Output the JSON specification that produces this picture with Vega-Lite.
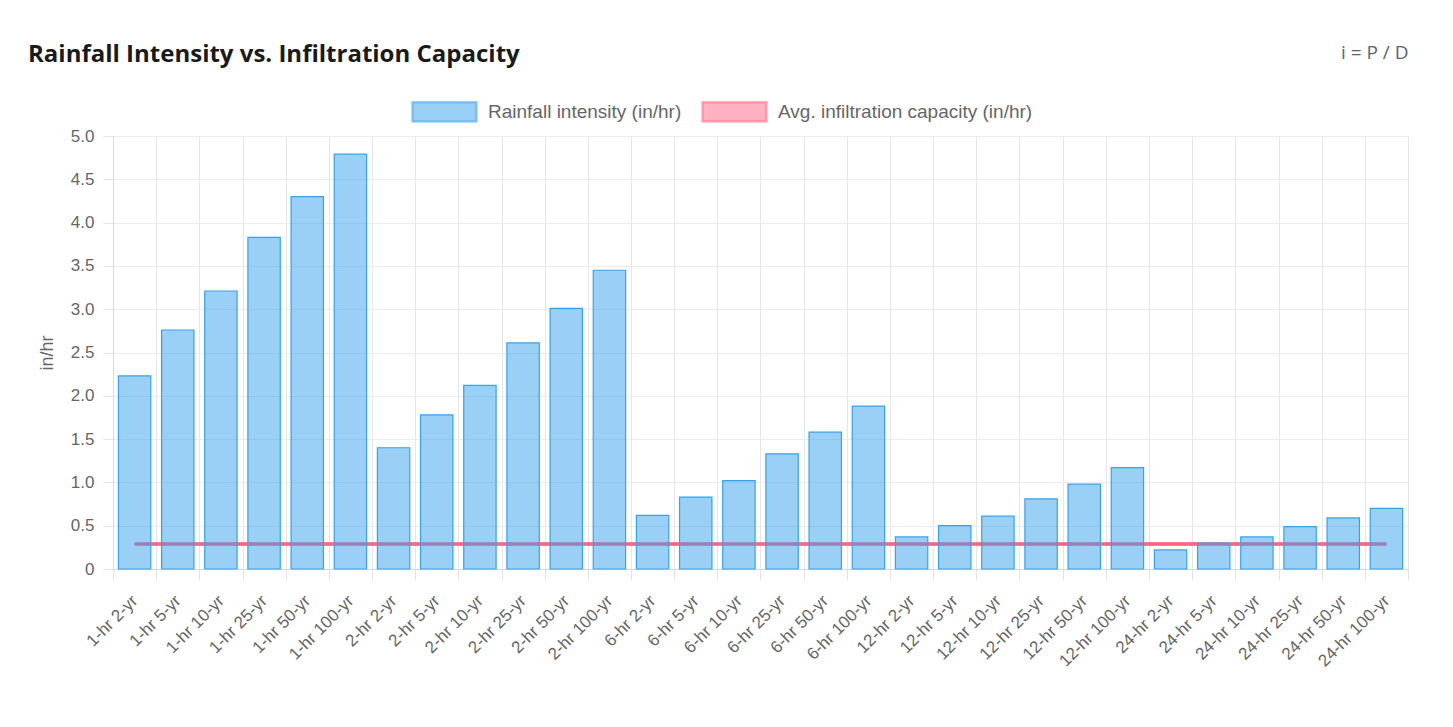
{
  "$schema": "https://vega.github.io/schema/vega-lite/v6.json",
  "autosize": {"type": "none"},
  "width": 1295,
  "height": 433,
  "padding": {"left": 113, "top": 136, "right": 45, "bottom": 158},
  "background": "white",
  "title": {
    "text": "Rainfall Intensity vs. Infiltration Capacity",
    "anchor": "start",
    "frame": "group",
    "font": "Open Sans",
    "fontSize": 24,
    "fontWeight": "bold",
    "color": "#1a1a1a",
    "baseline": "alphabetic",
    "dx": -85,
    "dy": 43,
    "offset": 0
  },
  "data": {
    "values": [
      {"event": "1-hr 2-yr", "intensity": 2.23, "infiltration": 0.29},
      {"event": "1-hr 5-yr", "intensity": 2.76, "infiltration": 0.29},
      {"event": "1-hr 10-yr", "intensity": 3.21, "infiltration": 0.29},
      {"event": "1-hr 25-yr", "intensity": 3.83, "infiltration": 0.29},
      {"event": "1-hr 50-yr", "intensity": 4.30, "infiltration": 0.29},
      {"event": "1-hr 100-yr", "intensity": 4.79, "infiltration": 0.29},
      {"event": "2-hr 2-yr", "intensity": 1.40, "infiltration": 0.29},
      {"event": "2-hr 5-yr", "intensity": 1.78, "infiltration": 0.29},
      {"event": "2-hr 10-yr", "intensity": 2.12, "infiltration": 0.29},
      {"event": "2-hr 25-yr", "intensity": 2.61, "infiltration": 0.29},
      {"event": "2-hr 50-yr", "intensity": 3.01, "infiltration": 0.29},
      {"event": "2-hr 100-yr", "intensity": 3.45, "infiltration": 0.29},
      {"event": "6-hr 2-yr", "intensity": 0.62, "infiltration": 0.29},
      {"event": "6-hr 5-yr", "intensity": 0.83, "infiltration": 0.29},
      {"event": "6-hr 10-yr", "intensity": 1.02, "infiltration": 0.29},
      {"event": "6-hr 25-yr", "intensity": 1.33, "infiltration": 0.29},
      {"event": "6-hr 50-yr", "intensity": 1.58, "infiltration": 0.29},
      {"event": "6-hr 100-yr", "intensity": 1.88, "infiltration": 0.29},
      {"event": "12-hr 2-yr", "intensity": 0.37, "infiltration": 0.29},
      {"event": "12-hr 5-yr", "intensity": 0.50, "infiltration": 0.29},
      {"event": "12-hr 10-yr", "intensity": 0.61, "infiltration": 0.29},
      {"event": "12-hr 25-yr", "intensity": 0.81, "infiltration": 0.29},
      {"event": "12-hr 50-yr", "intensity": 0.98, "infiltration": 0.29},
      {"event": "12-hr 100-yr", "intensity": 1.17, "infiltration": 0.29},
      {"event": "24-hr 2-yr", "intensity": 0.22, "infiltration": 0.29},
      {"event": "24-hr 5-yr", "intensity": 0.30, "infiltration": 0.29},
      {"event": "24-hr 10-yr", "intensity": 0.37, "infiltration": 0.29},
      {"event": "24-hr 25-yr", "intensity": 0.49, "infiltration": 0.29},
      {"event": "24-hr 50-yr", "intensity": 0.59, "infiltration": 0.29},
      {"event": "24-hr 100-yr", "intensity": 0.70, "infiltration": 0.29}
    ]
  },
  "resolve": {"axis": {"x": "independent"}},
  "layer": [
    {
      "mark": {"type": "line", "strokeWidth": 3.5, "stroke": "rgb(255,99,132)"},
      "encoding": {
        "x": {
          "field": "event", "type": "nominal", "sort": null,
          "scale": {"paddingInner": 0, "paddingOuter": 0},
          "axis": {
            "orient": "top", "labels": false, "ticks": false, "domain": false, "grid": false,
            "title": "i = P / D", "titleAnchor": "end", "titleAlign": "right",
            "titleFont": "Open Sans", "titleFontSize": 19, "titleFontWeight": "normal",
            "titleColor": "#5b6470", "titleY": -78, "titleBaseline": "alphabetic"
          }
        },
        "y": {"field": "infiltration", "type": "quantitative"}
      }
    },
    {
      "mark": {"type": "line", "strokeWidth": 3.5},
      "encoding": {
        "x": {"field": "event", "type": "nominal", "sort": null, "axis": null},
        "y": {"field": "infiltration", "type": "quantitative"},
        "color": {
          "datum": "Avg. infiltration capacity (in/hr)",
          "type": "nominal",
          "scale": {
            "domain": ["Rainfall intensity (in/hr)", "Avg. infiltration capacity (in/hr)"],
            "range": ["rgba(54,162,235,0.5)", "rgba(255,99,132,0.5)"]
          },
          "legend": {
            "orient": "none",
            "direction": "horizontal",
            "legendX": 298,
            "legendY": -58,
            "title": null,
            "symbolType": "M-1,-0.3 L1,-0.3 L1,0.3 L-1,0.3 Z",
            "symbolSize": 4096,
            "symbolStrokeWidth": 2.5,
            "symbolOpacity": 1,
            "labelFont": "Liberation Sans",
            "labelFontSize": 19,
            "labelColor": "#666",
            "labelOffset": 10,
            "columnPadding": 15,
            "labelLimit": 500,
            "encode": {
              "symbols": {
                "update": {
                  "stroke": {"signal": "datum.value === 'Rainfall intensity (in/hr)' ? 'rgb(54,162,235)' : 'rgb(255,99,132)'"}
                }
              }
            }
          }
        }
      }
    },
    {
      "mark": {"type": "bar", "width": {"band": 0.75}, "stroke": "rgb(54,162,235)", "strokeWidth": 1.2},
      "encoding": {
        "x": {
          "field": "event", "type": "nominal", "sort": null,
          "axis": {
            "title": null,
            "labelAngle": -45,
            "labelAlign": "right",
            "labelBaseline": "middle",
            "labelFont": "Liberation Sans",
            "labelFontSize": 17,
            "labelColor": "#666",
            "labelPadding": 18,
            "tickBand": "extent",
            "tickSize": 11,
            "tickColor": "#e3e3e3",
            "grid": true,
            "gridColor": "#e6e6e6",
            "domainColor": "#d9d9d9"
          }
        },
        "y": {
          "field": "intensity", "type": "quantitative",
          "scale": {"domain": [0, 5]},
          "axis": {
            "title": "in/hr",
            "titleFont": "Liberation Sans",
            "titleFontSize": 18,
            "titleFontWeight": "normal",
            "titleColor": "#666",
            "titlePadding": 14,
            "values": [0, 0.5, 1, 1.5, 2, 2.5, 3, 3.5, 4, 4.5, 5],
            "labelExpr": "datum.value === 0 ? '0' : format(datum.value, '.1f')",
            "labelFont": "Liberation Sans",
            "labelFontSize": 17,
            "labelColor": "#666",
            "labelPadding": 9,
            "tickSize": 10,
            "tickColor": "#e3e3e3",
            "gridColor": "#ececec",
            "domainColor": "#d9d9d9"
          }
        },
        "color": {"datum": "Rainfall intensity (in/hr)", "type": "nominal"}
      }
    }
  ],
  "config": {
    "view": {"stroke": null}
  }
}
